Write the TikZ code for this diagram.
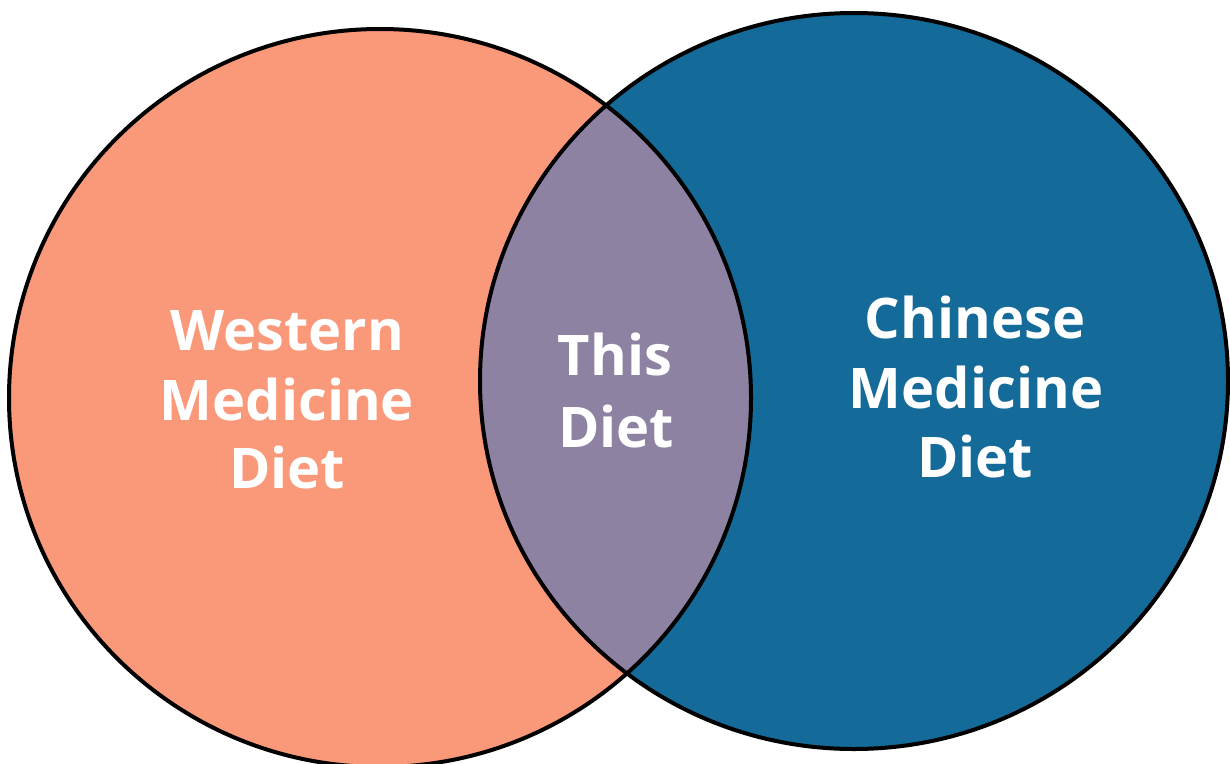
\documentclass[tikz,border=0pt]{standalone}
\usepackage{fontspec}
\setmainfont{Open Sans}
\definecolor{salmon}{HTML}{FA997A}
\definecolor{lensc}{HTML}{8E82A3}
\definecolor{bluec}{HTML}{146A98}
\begin{document}
\begin{tikzpicture}[x=1pt,y=-1pt,
  outline/.style={draw=black,line width=4pt},
  lbl/.style={text=white,font=\fontsize{56}{69}\selectfont\bfseries,anchor=base,inner sep=0pt}]
\useasboundingbox (0,0) rectangle (1230,763);
\def\leftshape{(380,398) ellipse [x radius=371, y radius=369]}
\def\rightshape{(854,381) ellipse [x radius=374, y radius=368]}
\fill[salmon] \leftshape;
\fill[bluec] \rightshape;
\begin{scope}
  \clip \leftshape;
  \fill[lensc] \rightshape;
\end{scope}
\draw[outline] \leftshape;
\draw[outline] \rightshape;
% left label
\node[lbl] (w1) at (287,350) {Western};
\node[lbl] (w2) at (287,420) {Medicine};
\node[lbl] (w3) at (287,488) {Diet};
% middle label
\node[lbl] (t1) at (615,375) {This};
\node[lbl] (t2) at (616,447) {Diet};
% right label
\node[lbl] (c1) at (975,338) {Chinese};
\node[lbl] (c2) at (976,408) {Medicine};
\node[lbl] (c3) at (975,477) {Diet};
\end{tikzpicture}
\end{document}
